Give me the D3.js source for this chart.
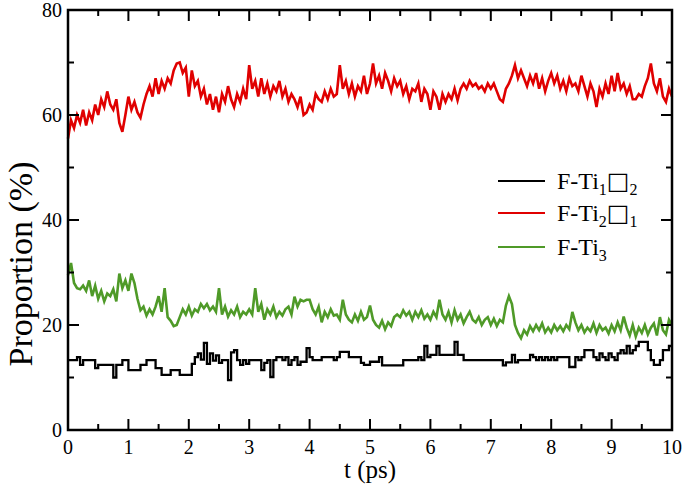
<!DOCTYPE html>
<html><head><meta charset="utf-8">
<script src="https://cdn.jsdelivr.net/npm/d3@7"></script>
<style>body{margin:0;background:#fff}svg{display:block}</style>
</head><body><svg id="c" width="685" height="493"></svg>
<script>
const tStep = 0.05;
const redVals = [
55.5,59,57.5,60,58.5,61,58,60.5,59,62,
60,63,61.5,64.5,62,61,63,58.5,56.8,60,
63.5,61,62.5,60.5,59.5,62,64,65.5,63.5,67,
64,66.5,65,67,66,68.5,69.8,70,68,69,
63.5,68.5,65.5,66.5,63.5,65,62,64,61,63.5,
60.5,64,62.5,65.5,63,61.5,64,62.5,65,63,
69.5,65,66.5,63.5,67,64,66,63.5,65.5,64.5,
66.5,63.5,65,62.5,64,63,61.5,63.5,60,60.5,
62,61,64,63,62.5,64.5,63,65,63.5,64,
69.5,65,66.5,64,66,63.5,65.5,64.5,67.5,64,
66,69.8,66,67.5,65,68,66.5,64.5,67,65.5,
66.5,64,65.5,63,65,64.5,66,62.5,65,64,
61,64.5,63.5,61,64,62.5,64,63,65,62.8,
65,66,65,66.5,65.5,66,65,65.5,64.5,66,
65,66,64.5,63,62.5,65,66,67.5,69.5,67,
68.5,67,65.5,67.5,66,68,65,67,64.5,66.5,
68,66,67.5,65,66.5,64.5,67,65.5,66,64.5,
67.5,65.5,63.5,66,64.5,61.5,65,63.5,66,64,
67.5,64.5,68,65,66,64,65.5,63,63,64,
63.5,65.5,67,69.8,66,64.5,67,63.5,62.5,65,
63.5];
const greenVals = [
29.5,31.8,28,27,26.8,27.5,26.5,28.5,25.5,27.5,
25,26.5,24.5,26,25.5,26.8,24.5,29.8,27,28.5,
26.5,29.8,28,25,22.8,23.5,21.8,23,22,23.5,
25.5,22.5,27,21.5,20.8,19.8,20,21.5,23,22,
23.5,21.8,23,22.5,24,23.2,24,22.8,23.5,22.5,
27,22,23.5,21.6,22.8,22,23.5,21.5,22.5,22,
23,22,27,22.5,24,21,23,22,23.5,21.5,
22.5,21.8,23,23.5,22,25.4,23.5,24.8,24.5,24.8,
24.8,23,22,23.5,20.5,22.5,21.5,23,21.8,22,
21,24.8,22,21,20.5,22,20.8,22.5,21,21.5,
23.7,21,20,19.5,20.8,19.2,20.5,19.8,21.5,22,
21.5,22.8,21.8,22.5,21,22.5,21.5,22.8,21.2,22,
21,22.5,21.5,24.8,22,21,22.5,20.5,22.8,21,
22,20.3,21.5,22.5,21,20.5,21.5,20,21,21.5,
20,21.2,19.8,21,20.5,23.7,25.5,24,20,18.5,
17.5,19,18.2,19.8,18.8,20,19,20.3,18.6,19.5,
18.6,20,19,19.8,18.8,20,19.2,22.5,20.5,19,
20,18.6,19.5,18.8,20.3,18.5,20,19,19.5,18.4,
20,18.8,20.5,19,21.6,19.5,18,20,17.8,19.5,
18.5,20,18.2,19.5,20.3,18,21.5,19,18.2,21,
20];
const blackVals = [
13.3,13.3,13.3,13.9,12.4,13.3,13.3,13.3,13.3,11.8,
12.4,12.4,12.4,12.4,12.4,10,12.4,12.4,13.3,13.3,
11.4,11.4,11.4,11.4,12.4,12.4,13.3,13.3,13.3,11.8,
11.8,10.5,10.5,10.5,11.4,11.4,11.4,10.5,10.5,10.5,
10.5,12.6,13.9,14.6,13.4,16.6,12.6,14.6,13.2,14.2,
12.8,13.3,13.3,9.5,14.8,15.2,13.3,12.4,13.3,12.6,
13.3,13.3,13.3,13.3,11.4,12.8,13.3,10.1,13.3,13.9,
13.9,13.3,13.9,12.4,13.3,13.9,12.4,13,13,15.6,
13.9,13.3,13.3,13.3,13.9,13.9,13.9,13.9,13.3,13.9,
14.9,14.9,14.9,13.9,13.9,13.9,13.9,12.8,12.4,12.4,
13,13,13,13.9,12.3,12.3,12.3,12.3,12.3,12.3,
12.3,13.3,13.3,13.3,13.3,13.3,13.9,13.3,16,13.9,
14.3,14.3,16,14.3,14.3,14.3,14.3,14.3,16.8,14.3,
14.3,13.3,13.3,13.3,13.3,13.3,13.3,13.3,13.3,13.3,
13.3,13.3,13.3,13.3,12.3,12.9,12.9,14.3,12.9,13.3,
13.3,13.3,13.3,14.3,13.9,13.3,13.9,13.3,13.9,13.3,
13.9,13.3,13.9,13.9,13.9,13.9,12,12,13.9,13.3,
13.9,15.2,15.2,15.2,13.9,13.3,14.6,13.9,13.3,14.6,
13.9,13.3,14.6,15.2,14.6,16,14.6,15.2,16,16.8,
16.8,16.8,15.2,13.3,12.4,12.4,13.3,15.2,15.2,16,
16];
const xTicks = [0,1,2,3,4,5,6,7,8,9,10];
const yTicks = [0,20,40,60,80];
const seriesNames = ["black","red","green"];
const seriesColors = ["#000000","#e00000","#4f9a28"];

const svg = d3.select("#c");
const L = 68, R = 672, T = 10, B = 430;
const x = d3.scaleLinear().domain([0,10]).range([L,R]);
const y = d3.scaleLinear().domain([0,80]).range([B,T]);
const font = "'Liberation Serif','Times New Roman',serif";

const mk = vals => vals.map((v,i)=>({t:i*tStep, v}));
const line = d3.line().x(d=>x(d.t)).y(d=>y(d.v));
const stepLine = d3.line().x(d=>x(d.t)).y(d=>y(d.v)).curve(d3.curveStepAfter);

svg.append("path").datum(mk(redVals)).attr("d",line).attr("fill","none").attr("stroke",seriesColors[1]).attr("stroke-width",2.6);
svg.append("path").datum(mk(greenVals)).attr("d",line).attr("fill","none").attr("stroke",seriesColors[2]).attr("stroke-width",2.6);
svg.append("path").datum(mk(blackVals)).attr("d",stepLine).attr("fill","none").attr("stroke",seriesColors[0]).attr("stroke-width",2.3);

svg.append("rect").attr("x",L).attr("y",T).attr("width",R-L).attr("height",B-T).attr("fill","none").attr("stroke","#000").attr("stroke-width",2.5);

const xMinor = d3.range(0.5,10,1);
const yMinor = [10,30,50,70];
const ax = svg.append("g").attr("stroke","#000").attr("stroke-width",2);
xTicks.forEach(t=>{ ax.append("line").attr("x1",x(t)).attr("x2",x(t)).attr("y1",B).attr("y2",B-11);
  ax.append("line").attr("x1",x(t)).attr("x2",x(t)).attr("y1",T).attr("y2",T+11);});
xMinor.forEach(t=>{ ax.append("line").attr("x1",x(t)).attr("x2",x(t)).attr("y1",B).attr("y2",B-6);
  ax.append("line").attr("x1",x(t)).attr("x2",x(t)).attr("y1",T).attr("y2",T+6);});
yTicks.forEach(v=>{ ax.append("line").attr("x1",L).attr("x2",L+11).attr("y1",y(v)).attr("y2",y(v));
  ax.append("line").attr("x1",R).attr("x2",R-11).attr("y1",y(v)).attr("y2",y(v));});
yMinor.forEach(v=>{ ax.append("line").attr("x1",L).attr("x2",L+6).attr("y1",y(v)).attr("y2",y(v));
  ax.append("line").attr("x1",R).attr("x2",R-6).attr("y1",y(v)).attr("y2",y(v));});

svg.append("g").selectAll("text").data(xTicks).join("text")
  .attr("x",d=>x(d)).attr("y",454).attr("text-anchor","middle")
  .attr("font-family",font).attr("font-size",20).text(d=>d);
svg.append("g").selectAll("text").data(yTicks).join("text")
  .attr("x",62).attr("y",d=>y(d)+7).attr("text-anchor","end")
  .attr("font-family",font).attr("font-size",20).text(d=>d);

svg.append("text").attr("x",x(5)).attr("y",478).attr("text-anchor","middle")
  .attr("font-family",font).attr("font-size",25).text("t (ps)");
svg.append("text").attr("transform","translate(32,264) rotate(-90)")
  .attr("text-anchor","middle").attr("font-family",font).attr("font-size",34).text("Proportion (%)");

const legY = [181, 213, 247];
const labels = [["F-Ti","1","□","2"],["F-Ti","2","□","1"],["F-Ti","3"]];
const lg = svg.append("g");
labels.forEach((lab,i)=>{
  lg.append("line").attr("x1",498).attr("x2",545).attr("y1",legY[i]).attr("y2",legY[i]).attr("stroke",seriesColors[i]).attr("stroke-width",2.2);
  const tx = lg.append("text").attr("x",557).attr("y",legY[i]+8).attr("font-family",font).attr("font-size",24);
  tx.append("tspan").text(lab[0]);
  tx.append("tspan").attr("font-size",16).attr("dy",6).text(lab[1]);
  if(lab.length>2){
    tx.append("tspan").attr("dy",-6).attr("font-family","'DejaVu Sans',sans-serif").attr("font-size",24).text(lab[2]);
    tx.append("tspan").attr("font-size",16).attr("dy",6).text(lab[3]);
  }
});
</script></body></html>
